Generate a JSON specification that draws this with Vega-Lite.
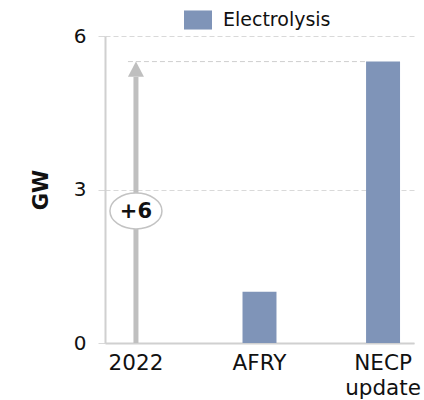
{
  "$schema": "https://vega.github.io/schema/vega-lite/v6.json",
  "width": 309,
  "height": 307,
  "autosize": {"type": "none"},
  "padding": {"left": 105, "top": 36, "right": 10, "bottom": 57},
  "config": {
    "view": {"stroke": null},
    "font": "DejaVu Sans",
    "axisY": {
      "grid": true,
      "gridDash": [5, 3],
      "gridColor": "#d9d9d9",
      "tickColor": "#d9d9d9",
      "tickSize": 7,
      "domainColor": "#d0d0d0",
      "domainWidth": 2,
      "labelFontSize": 20,
      "labelColor": "#111111",
      "labelPadding": 12,
      "titleFontSize": 21,
      "titleFontWeight": "bold",
      "titleColor": "#111111",
      "titlePadding": 22
    },
    "axisX": {
      "labelAngle": 0,
      "ticks": false,
      "grid": false,
      "domainColor": "#d0d0d0",
      "domainWidth": 2,
      "labelFontSize": 21.5,
      "labelColor": "#111111",
      "labelPadding": 9,
      "labelLineHeight": 25
    }
  },
  "datasets": {
    "capacity": [
      {"case": "2022", "gw": 0, "tech": "Electrolysis"},
      {"case": "AFRY", "gw": 1, "tech": "Electrolysis"},
      {"case": "NECP update", "gw": 5.5, "tech": "Electrolysis"}
    ],
    "growth": [
      {"case": "2022", "from": 0, "to": 5.5, "shaftEnd": 5.2, "labelAt": 2.58, "label": "+6"}
    ]
  },
  "encoding": {
    "x": {
      "field": "case",
      "type": "nominal",
      "sort": ["2022", "AFRY", "NECP update"],
      "scale": {"domain": ["2022", "AFRY", "NECP update"], "paddingInner": 0.725, "paddingOuter": 0.113},
      "axis": {"title": null, "labelExpr": "split(datum.label, ' ')"}
    }
  },
  "layer": [
    {
      "data": {"name": "capacity"},
      "mark": {"type": "bar"},
      "encoding": {
        "y": {
          "field": "gw",
          "type": "quantitative",
          "title": "GW",
          "scale": {"domain": [0, 6], "nice": false},
          "axis": {"values": [0, 3, 6]}
        },
        "color": {
          "field": "tech",
          "type": "nominal",
          "scale": {"range": ["#7f94b8"]},
          "legend": {
            "title": null,
            "orient": "none",
            "legendX": 79,
            "legendY": -30,
            "symbolType": "M-1,-0.68H1V0.68H-1Z",
            "symbolSize": 784,
            "symbolStrokeWidth": 0,
            "labelFontSize": 19,
            "labelColor": "#111111",
            "labelOffset": 11
          }
        }
      }
    },
    {
      "data": {"name": "growth"},
      "mark": {"type": "rule", "color": "#cfcfcf", "strokeWidth": 1, "strokeDash": [5, 3], "xOffset": -8, "x2Offset": -17},
      "encoding": {
        "x2": {"datum": "NECP update"},
        "y": {"field": "to", "type": "quantitative", "title": "GW", "scale": {"domain": [0, 6], "nice": false}, "axis": {"values": [0, 3, 6]}}
      }
    },
    {
      "data": {"name": "growth"},
      "mark": {"type": "rule", "color": "#bfbfbf", "strokeWidth": 5},
      "encoding": {
        "y": {"field": "from", "type": "quantitative", "title": "GW", "scale": {"domain": [0, 6], "nice": false}, "axis": {"values": [0, 3, 6]}},
        "y2": {"field": "shaftEnd"}
      }
    },
    {
      "data": {"name": "growth"},
      "mark": {"type": "point", "shape": "M0,0L1,1.9L-1,1.9Z", "filled": true, "size": 256, "color": "#bfbfbf", "opacity": 1},
      "encoding": {
        "y": {"field": "to", "type": "quantitative", "title": "GW", "scale": {"domain": [0, 6], "nice": false}, "axis": {"values": [0, 3, 6]}}
      }
    },
    {
      "data": {"name": "growth"},
      "mark": {"type": "point", "shape": "M-1,0A1,0.69,0,1,0,1,0A1,0.69,0,1,0,-1,0Z", "size": 2704, "fill": "#ffffff", "stroke": "#c3c3c3", "strokeWidth": 1.5, "opacity": 1},
      "encoding": {
        "y": {"field": "labelAt", "type": "quantitative", "title": "GW", "scale": {"domain": [0, 6], "nice": false}, "axis": {"values": [0, 3, 6]}}
      }
    },
    {
      "data": {"name": "growth"},
      "mark": {"type": "text", "fontSize": 21, "fontWeight": "bold", "color": "#111111", "align": "center", "baseline": "middle", "dy": 1},
      "encoding": {
        "y": {"field": "labelAt", "type": "quantitative", "title": "GW", "scale": {"domain": [0, 6], "nice": false}, "axis": {"values": [0, 3, 6]}},
        "text": {"field": "label"}
      }
    }
  ]
}
